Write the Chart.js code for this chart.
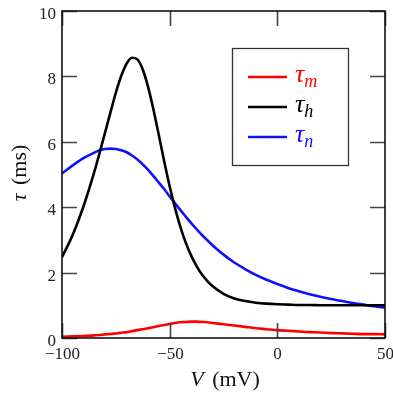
<!DOCTYPE html>
<html>
<head>
<meta charset="utf-8">
<script src="https://cdn.jsdelivr.net/npm/chart.js@4/dist/chart.umd.min.js"></script>
<style>
  html, body { margin: 0; padding: 0; background: #fff; }
</style>
</head>
<body>
<canvas id="tau" width="393" height="395"></canvas>
<script>
// membrane voltage (mV) and the three time constants (ms)
var voltage = [-100, -95, -90, -85, -82.5, -80, -77.5, -75, -72.5, -70, -67.5, -65, -62.5, -60, -57.5, -55,
               -52.5, -50, -47.5, -45, -42.5, -40, -37.5, -35, -32.5, -30,
               -25, -20, -15, -10, -5, 0, 5, 10, 15, 20, 25, 30, 35, 40, 45, 50];
var tauM = [0.04, 0.05, 0.06, 0.08, 0.09, 0.11, 0.12, 0.14, 0.16, 0.18, 0.21, 0.24, 0.27, 0.30, 0.33, 0.37,
            0.40, 0.43, 0.46, 0.48, 0.49, 0.50, 0.50, 0.49, 0.48, 0.46,
            0.42, 0.38, 0.34, 0.30, 0.27, 0.24, 0.22, 0.20, 0.18, 0.17, 0.15, 0.14, 0.13, 0.12, 0.12, 0.11];
var tauH = [2.47, 3.16, 4.03, 5.08, 5.67, 6.28, 6.90, 7.50, 8.01, 8.39, 8.57, 8.52, 8.21, 7.67, 6.97, 6.19,
            5.39, 4.64, 3.97, 3.39, 2.91, 2.52, 2.20, 1.94, 1.74, 1.58,
            1.35, 1.21, 1.13, 1.08, 1.05, 1.03, 1.02, 1.01, 1.01, 1.00, 1.00, 1.00, 1.00, 1.00, 1.00, 1.00];
var tauN = [5.03, 5.28, 5.50, 5.67, 5.74, 5.78, 5.79, 5.78, 5.74, 5.68, 5.58, 5.46, 5.31, 5.14, 4.95, 4.75,
            4.55, 4.33, 4.12, 3.91, 3.71, 3.51, 3.33, 3.15, 2.99, 2.83,
            2.55, 2.31, 2.11, 1.93, 1.78, 1.65, 1.53, 1.43, 1.34, 1.26, 1.19, 1.13, 1.07, 1.02, 0.97, 0.93];
var subscripts = ['m', 'h', 'n'];
var xTicks = [-100, -50, 0, 50];
var yTicks = [0, 2, 4, 6, 8, 10];

var serif = "'Liberation Serif', 'DejaVu Serif', serif";

function pts(arr) {
  return voltage.map(function (v, i) { return { x: v, y: arr[i] }; });
}

function series(arr, color, sub) {
  return {
    label: '\u03C4' + sub,
    data: pts(arr),
    borderColor: color,
    backgroundColor: color,
    borderWidth: 2.6,
    pointRadius: 0,
    cubicInterpolationMode: 'monotone',
    fill: false
  };
}

function fmt(v) { return String(v).replace('-', '\u2212'); }

// frame, inward ticks on all four sides, tick labels, axis titles, legend box
var decor = {
  id: 'decor',
  afterDraw: function (chart) {
    var c = chart.ctx, a = chart.chartArea;
    var sx = chart.scales.x, sy = chart.scales.y;
    c.save();

    c.strokeStyle = '#444';
    c.lineWidth = 1.6;
    c.fillStyle = '#222';
    c.font = '17px ' + serif;
    xTicks.forEach(function (t) {
      var px = Math.round(sx.getPixelForValue(t)) + 0.5;
      c.beginPath();
      c.moveTo(px, a.bottom); c.lineTo(px, a.bottom - 15);
      c.moveTo(px, a.top); c.lineTo(px, a.top + 15);
      c.stroke();
      c.textAlign = 'center';
      c.textBaseline = 'alphabetic';
      c.fillText(fmt(t), px, a.bottom + 21);
    });
    yTicks.forEach(function (t) {
      var py = Math.round(sy.getPixelForValue(t)) + 0.5;
      c.beginPath();
      c.moveTo(a.left, py); c.lineTo(a.left + 15, py);
      c.moveTo(a.right, py); c.lineTo(a.right - 15, py);
      c.stroke();
      c.textAlign = 'right';
      c.textBaseline = 'alphabetic';
      c.fillText(fmt(t), a.left - 6, py + 7);
    });

    c.strokeStyle = '#111';
    c.lineWidth = 1.6;
    c.strokeRect(a.left, a.top, a.right - a.left, a.bottom - a.top);

    // x title: V (mV)
    c.fillStyle = '#111';
    c.textBaseline = 'alphabetic';
    c.textAlign = 'left';
    var it = 'italic 22px ' + serif, up = '22px ' + serif;
    c.font = it; var w1 = c.measureText('V').width;
    c.font = up; var w2 = c.measureText(' (mV)').width;
    var x0 = (a.left + a.right) / 2 - (w1 + w2) / 2;
    c.font = it; c.fillText('V', x0, 386);
    c.font = up; c.fillText(' (mV)', x0 + w1 + 3, 386);

    // y title: tau (ms)
    c.save();
    c.translate(26, (a.top + a.bottom) / 2);
    c.rotate(-Math.PI / 2);
    c.font = it; w1 = c.measureText('\u03C4').width;
    c.font = up; w2 = c.measureText(' (ms)').width;
    x0 = -(w1 + w2) / 2;
    c.font = it; c.fillText('\u03C4', x0, 0);
    c.font = up; c.fillText(' (ms)', x0 + w1 + 3, 0);
    c.restore();

    // legend
    var bx = a.right - 153, by = a.top + 37;
    c.strokeStyle = '#333';
    c.lineWidth = 1.3;
    c.strokeRect(bx + 0.5, by + 0.5, 116, 117);
    chart.data.datasets.forEach(function (ds, i) {
      var ly = by + 29 + 30 * i;
      c.strokeStyle = ds.borderColor;
      c.lineWidth = 2.6;
      c.beginPath();
      c.moveTo(bx + 16, ly); c.lineTo(bx + 55, ly);
      c.stroke();
      c.fillStyle = ds.borderColor;
      c.font = 'italic 26px ' + serif;
      c.fillText('\u03C4', bx + 63, ly + 5);
      var tw = c.measureText('\u03C4').width;
      c.font = 'italic 18px ' + serif;
      c.fillText(subscripts[i], bx + 63 + tw, ly + 10);
    });

    c.restore();
  }
};

var chart = new Chart(document.getElementById('tau').getContext('2d'), {
  type: 'line',
  data: {
    datasets: [
      series(tauM, '#ff0000', subscripts[0]),
      series(tauH, '#000000', subscripts[1]),
      series(tauN, '#1010ff', subscripts[2])
    ]
  },
  options: {
    responsive: false,
    animation: false,
    devicePixelRatio: 1,
    layout: { padding: { top: 11, right: 8, left: 0, bottom: 0 } },
    plugins: {
      legend: { display: false },
      tooltip: { enabled: false }
    },
    scales: {
      x: {
        type: 'linear',
        min: -100,
        max: 50,
        afterBuildTicks: function (s) { s.ticks = xTicks.map(function (v) { return { value: v }; }); },
        afterFit: function (s) { s.height = 57; },
        ticks: { display: false },
        grid: { display: false },
        border: { display: false }
      },
      y: {
        min: 0,
        max: 10,
        afterBuildTicks: function (s) { s.ticks = yTicks.map(function (v) { return { value: v }; }); },
        afterFit: function (s) { s.width = 62; },
        ticks: { display: false },
        grid: { display: false },
        border: { display: false }
      }
    }
  },
  plugins: [decor]
});
</script>
</body>
</html>
